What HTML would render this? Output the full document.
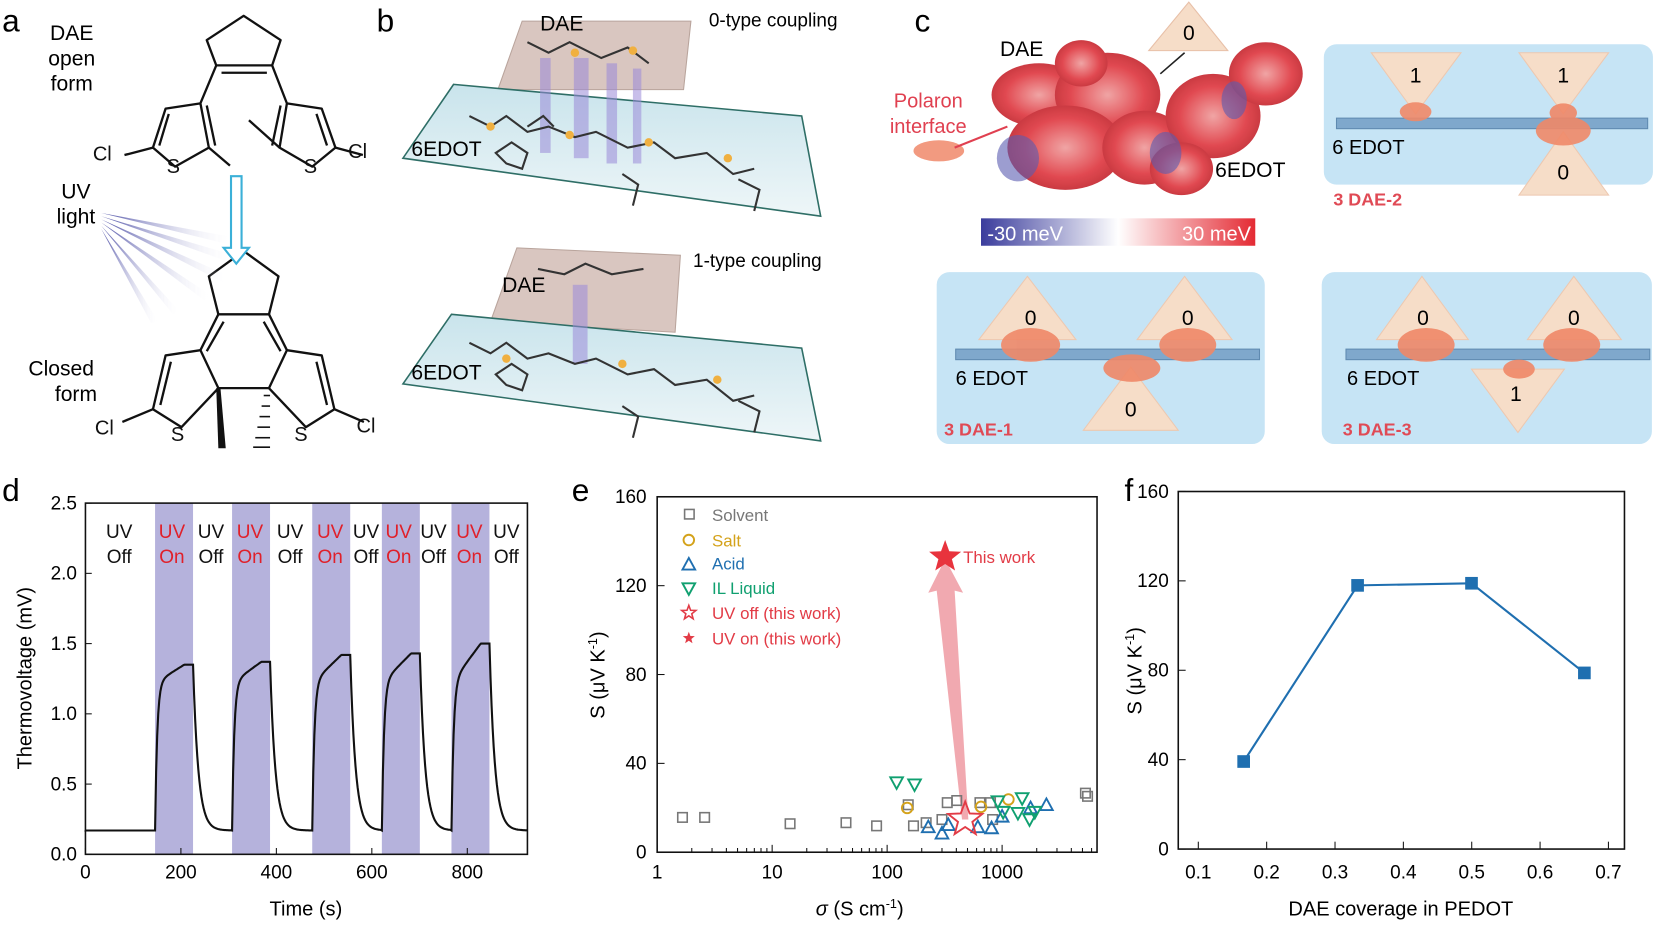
<!DOCTYPE html>
<html><head><meta charset="utf-8"><style>
html,body{margin:0;padding:0;background:#fff}
svg{display:block}
text{font-family:"Liberation Sans",Arial,sans-serif}
</style></head><body>
<svg id="s" width="1654" height="925" viewBox="0 0 1568 877" preserveAspectRatio="none" xmlns="http://www.w3.org/2000/svg">
<defs>
<linearGradient id="cb" x1="0" x2="1"><stop offset="0" stop-color="#3a3c9c"/><stop offset="0.5" stop-color="#ffffff"/><stop offset="1" stop-color="#e42a33"/></linearGradient>
<linearGradient id="uv" x1="0" x2="1"><stop offset="0" stop-color="#3a3c9c"/><stop offset="1" stop-color="#fff" stop-opacity="0"/></linearGradient>
<linearGradient id="pl" x1="0" x2="0" y1="0" y2="1"><stop offset="0" stop-color="#c9e4ec"/><stop offset="1" stop-color="#eef6f8"/></linearGradient>
<radialGradient id="blob"><stop offset="0" stop-color="#f0a0a0"/><stop offset="0.7" stop-color="#e04048"/><stop offset="1" stop-color="#c83038"/></radialGradient>
</defs>
<!-- Panel a -->
<text x="2" y="30" font-size="30">a</text>
<text x="68" y="38" font-size="20" text-anchor="middle">DAE</text>
<text x="68" y="62" font-size="20" text-anchor="middle">open</text>
<text x="68" y="86" font-size="20" text-anchor="middle">form</text>
<g stroke="#111" stroke-width="2.2" fill="none" stroke-linejoin="round">
<polyline points="205,62 196,38 231,15 266,38 258,62 205,62"/>
<line x1="210" y1="69" x2="253" y2="69"/>
<polyline points="205,62 190,98 157,103 145,140 166,158 198,140 190,98"/>
<line x1="196" y1="100" x2="204" y2="138"/><line x1="160" y1="108" x2="151" y2="138"/>
<line x1="198" y1="140" x2="218" y2="157"/><line x1="145" y1="140" x2="118" y2="147"/>
<polyline points="258,62 272,98 305,103 318,140 296,158 265,140 272,98"/>
<line x1="266" y1="100" x2="258" y2="138"/><line x1="300" y1="108" x2="310" y2="138"/>
<line x1="265" y1="140" x2="236" y2="114"/><line x1="318" y1="140" x2="344" y2="147"/>
<polyline points="207,298 198,262 231,238 264,262 255,298"/>
<polyline points="207,298 255,298 272,332 255,368 207,368 190,332 207,298"/>
<line x1="212" y1="305" x2="196" y2="333"/><line x1="250" y1="305" x2="266" y2="333"/>
<polyline points="190,332 157,337 145,388 172,405 207,368"/>
<line x1="162" y1="343" x2="152" y2="384"/>
<polyline points="272,332 305,337 317,388 290,405 255,368"/>
<line x1="300" y1="343" x2="310" y2="384"/>
<line x1="145" y1="388" x2="116" y2="400"/><line x1="317" y1="388" x2="345" y2="400"/>
</g>
<polygon points="205,368 209,368 214,425 207,425" fill="#111"/>
<g stroke="#111" stroke-width="1.5"><line x1="250" y1="375" x2="256" y2="375"/><line x1="248" y1="385" x2="256" y2="385"/><line x1="246" y1="395" x2="256" y2="395"/><line x1="244" y1="405" x2="256" y2="405"/><line x1="242" y1="415" x2="256" y2="415"/><line x1="240" y1="424" x2="256" y2="424"/></g>
<g font-size="19" fill="#111"><text x="88" y="152">Cl</text><text x="330" y="150">Cl</text><text x="158" y="164">S</text><text x="288" y="164">S</text>
<text x="90" y="412">Cl</text><text x="338" y="410">Cl</text><text x="162" y="418">S</text><text x="279" y="418">S</text></g>
<g font-size="20" text-anchor="middle"><text x="72" y="188">UV</text><text x="72" y="212">light</text>
<text x="58" y="356">Closed</text><text x="72" y="380">form</text></g>
<g fill="url(#uv)" opacity="0.9">
<polygon points="96,202 222,225 218,232"/><polygon points="96,205 222,242 216,248"/><polygon points="96,208 218,262 212,268"/>
<polygon points="96,211 200,280 194,285"/><polygon points="96,214 170,295 164,298"/><polygon points="96,217 150,305 143,306"/>
</g>
<path d="M219,167 h10 v68 h7 l-12,15 l-12,-15 h7 z" fill="#fff" stroke="#3bb0d8" stroke-width="2"/>
<!-- Panel b -->
<text x="357" y="30" font-size="30">b</text>
<polygon points="495,20 655,20 648,85 472,85" fill="#d9c6c0" stroke="#b9a49c"/>
<polygon points="430,80 760,110 778,205 382,150" fill="url(#pl)" stroke="#2e6e66" stroke-width="1.5"/>
<polygon points="490,235 645,242 640,315 465,305" fill="#d9c6c0" stroke="#b9a49c"/>
<polygon points="428,298 760,330 778,418 382,364" fill="url(#pl)" stroke="#2e6e66" stroke-width="1.5"/>
<g fill="#9a8ad8" opacity="0.55"><rect x="512" y="55" width="10" height="90"/><rect x="544" y="55" width="14" height="95"/><rect x="575" y="60" width="10" height="95"/><rect x="600" y="65" width="8" height="90"/><rect x="543" y="270" width="14" height="75"/></g>
<g stroke="#333" stroke-width="2" fill="none">
<path d="M445,110 l20,10 l15,-10 l20,15 l20,-5 l25,10 l20,-5 l30,15 l25,-5 l20,15 l30,-5 l25,20 l20,-5"/>
<path d="M470,145 l15,-10 l15,10 l-5,15 l-15,-5 z M500,120 l15,-10 l10,10 M590,165 l15,10 l-5,20 M700,170 l20,10 l-5,20"/>
<path d="M445,325 l20,10 l15,-10 l20,15 l20,-5 l25,10 l20,-5 l30,15 l25,-5 l20,15 l30,-5 l25,20 l20,-5"/>
<path d="M470,355 l15,-10 l15,10 l-5,15 l-15,-5 z M590,385 l15,10 l-5,20 M700,380 l20,10 l-5,20"/>
<path d="M500,40 l20,10 l20,-10 l30,15 l25,-10 l20,15 M510,255 l25,5 l20,-10 l25,10 l30,-5"/>
</g>
<g fill="#f0b040"><circle cx="465" cy="120" r="4"/><circle cx="540" cy="128" r="4"/><circle cx="615" cy="135" r="4"/><circle cx="690" cy="150" r="4"/><circle cx="480" cy="340" r="4"/><circle cx="590" cy="345" r="4"/><circle cx="680" cy="360" r="4"/><circle cx="545" cy="50" r="4"/><circle cx="600" cy="48" r="4"/></g>
<text x="512" y="29" font-size="20">DAE</text><text x="476" y="277" font-size="20">DAE</text>
<text x="390" y="148" font-size="20">6EDOT</text><text x="390" y="360" font-size="20">6EDOT</text>
<text x="672" y="25" font-size="18">0-type coupling</text><text x="657" y="253" font-size="18">1-type coupling</text>
<!-- Panel c -->
<text x="867" y="30" font-size="30">c</text>
<g fill="url(#blob)" opacity="0.95">
<ellipse cx="985" cy="90" rx="45" ry="30"/><ellipse cx="1050" cy="90" rx="50" ry="40"/><ellipse cx="1010" cy="140" rx="55" ry="40"/>
<ellipse cx="1085" cy="140" rx="40" ry="35"/><ellipse cx="1150" cy="110" rx="45" ry="40"/><ellipse cx="1200" cy="70" rx="35" ry="30"/>
<ellipse cx="1120" cy="160" rx="30" ry="25"/><ellipse cx="1025" cy="60" rx="25" ry="22"/>
</g>
<ellipse cx="965" cy="150" rx="20" ry="22" fill="#5a5cb0" opacity="0.6"/><ellipse cx="1105" cy="145" rx="15" ry="20" fill="#5a5cb0" opacity="0.6"/><ellipse cx="1170" cy="95" rx="12" ry="18" fill="#5a5cb0" opacity="0.6"/>
<polygon points="1090,2 1165,2 1127,48" fill="#f6ddc8" stroke="#e8c0a8" transform="rotate(180 1127 25)"/>
<text x="1127" y="38" font-size="20" text-anchor="middle">0</text>
<line x1="1123" y1="50" x2="1100" y2="70" stroke="#222" stroke-width="1.5"/>
<text x="948" y="53" font-size="20">DAE</text><text x="1152" y="168" font-size="20">6EDOT</text>
<text x="880" y="102" font-size="19" fill="#e04050" text-anchor="middle">Polaron</text><text x="880" y="126" font-size="19" fill="#e04050" text-anchor="middle">interface</text>
<ellipse cx="890" cy="143" rx="24" ry="10" fill="#f29a80"/><polyline points="905,140 955,120" stroke="#e04050" stroke-width="2" fill="none"/>
<rect x="930" y="207" width="260" height="26" fill="url(#cb)"/>
<text x="936" y="228" font-size="19" fill="#fff">-30 meV</text><text x="1186" y="228" font-size="19" fill="#fff" text-anchor="end">30 meV</text>
<g fill="#c6e4f5"><rect x="1255" y="42" width="312" height="133" rx="12"/><rect x="888" y="258" width="311" height="163" rx="12"/><rect x="1253" y="258" width="313" height="163" rx="12"/></g>
<g fill="#7fa8cc" stroke="#5f8ab0"><rect x="1267" y="112" width="295" height="10"/><rect x="906" y="331" width="288" height="10"/><rect x="1276" y="331" width="288" height="10"/></g>
<g fill="#f6ddc8" stroke="#edc8b0">
<polygon points="1300,50 1385,50 1342,108"/><polygon points="1440,50 1525,50 1482,108"/><polygon points="1440,185 1525,185 1482,125"/>
<polygon points="928,322 1020,322 974,262"/><polygon points="1078,322 1168,322 1123,262"/><polygon points="1027,408 1117,408 1072,348"/>
<polygon points="1305,322 1392,322 1348,262"/><polygon points="1448,322 1537,322 1492,262"/><polygon points="1395,350 1483,350 1439,410"/>
</g>
<g fill="#f08868" opacity="0.9">
<ellipse cx="1342" cy="106" rx="15" ry="9"/><ellipse cx="1482" cy="107" rx="13" ry="9"/><ellipse cx="1482" cy="124" rx="26" ry="14"/>
<ellipse cx="977" cy="327" rx="28" ry="16"/><ellipse cx="1126" cy="327" rx="27" ry="16"/><ellipse cx="1073" cy="349" rx="27" ry="13"/>
<ellipse cx="1352" cy="327" rx="27" ry="16"/><ellipse cx="1490" cy="327" rx="27" ry="16"/><ellipse cx="1440" cy="350" rx="15" ry="9"/>
</g>
<g font-size="20" text-anchor="middle"><text x="1342" y="78">1</text><text x="1482" y="78">1</text><text x="1482" y="170">0</text>
<text x="977" y="308">0</text><text x="1126" y="308">0</text><text x="1072" y="395">0</text>
<text x="1349" y="308">0</text><text x="1492" y="308">0</text><text x="1437" y="380">1</text></g>
<g font-size="19"><text x="1263" y="146">6 EDOT</text><text x="906" y="365">6 EDOT</text><text x="1277" y="365">6 EDOT</text></g>
<g font-size="17" font-weight="bold" fill="#e04a55"><text x="1264" y="195">3 DAE-2</text><text x="895" y="413">3 DAE-1</text><text x="1273" y="413">3 DAE-3</text></g>
<!-- Panel d -->
<text x="2" y="475" font-size="30">d</text>
<g id="bands" fill="#b5b2dc"></g>
<rect x="81" y="477" width="419" height="333" fill="none" stroke="#111" stroke-width="1.5"/>
<path id="trace" fill="none" stroke="#111" stroke-width="2"/>
<g id="dt" font-size="18"></g>
<text transform="translate(30,643) rotate(-90)" font-size="19" text-anchor="middle">Thermovoltage (mV)</text>
<text x="290" y="868" font-size="19" text-anchor="middle">Time (s)</text>
<!-- Panel e -->
<text x="542" y="475" font-size="30">e</text>
<rect x="623" y="471" width="417" height="337" fill="none" stroke="#111" stroke-width="1.5"/>
<g id="et" font-size="18"></g>
<text transform="translate(573,640) rotate(-90)" font-size="19" text-anchor="middle">S (μV K<tspan font-size="12" dy="-7">-1</tspan><tspan dy="7">)</tspan></text>
<text x="815" y="868" font-size="19" text-anchor="middle"><tspan font-style="italic">σ</tspan> (S cm<tspan font-size="12" dy="-7">-1</tspan><tspan dy="7">)</tspan></text>
<polygon points="912,777 918,777 905,560 913,562 896,530 880,562 888,560" fill="#ef9aa2" opacity="0.85"/>
<g id="es"></g>
<g font-size="16"><text x="675" y="494" fill="#777">Solvent</text><text x="675" y="518" fill="#d4a21a">Salt</text><text x="675" y="540" fill="#1f6fb0">Acid</text><text x="675" y="563" fill="#10a070">IL Liquid</text><text x="675" y="587" fill="#e23b46">UV off (this work)</text><text x="675" y="611" fill="#e23b46">UV on (this work)</text>
<text x="913" y="534" fill="#e23b46">This work</text></g>
<!-- Panel f -->
<text x="1066" y="475" font-size="30">f</text>
<rect x="1117" y="466" width="423" height="339" fill="none" stroke="#111" stroke-width="1.5"/>
<g id="ft" font-size="18"></g>
<text transform="translate(1082,636) rotate(-90)" font-size="19" text-anchor="middle">S (μV K<tspan font-size="12" dy="-7">-1</tspan><tspan dy="7">)</tspan></text>
<text x="1328" y="868" font-size="19" text-anchor="middle">DAE coverage in PEDOT</text>
<polyline points="1179,722 1287,555 1395,553 1502,638" fill="none" stroke="#1f6fb0" stroke-width="2"/>
<g fill="#1f6fb0"><rect x="1173" y="716" width="12" height="12"/><rect x="1281" y="549" width="12" height="12"/><rect x="1389" y="547" width="12" height="12"/><rect x="1496" y="632" width="12" height="12"/></g>
</svg>
<script>
var NS="http://www.w3.org/2000/svg";
function el(p,t,a,tx){var e=document.createElementNS(NS,t);for(var k in a)e.setAttribute(k,a[k]);if(tx!==undefined)e.textContent=tx;document.getElementById(p).appendChild(e);return e;}
var starts=[147,220,296,362,428],w=36,peaks=[1.35,1.37,1.42,1.43,1.5];
var X=function(t){return 81+t*0.4525},Y=function(v){return 810-v*133.2};
starts.forEach(function(s){el("bands","rect",{x:s,y:477,width:w,height:333});});
var d="M81,"+Y(0.17);
for(var x=81;x<=500;x+=1){var v=0.17;for(var i=0;i<5;i++){var s=starts[i];if(x>=s&&x<s+w){var u=(x-s)/w;v=0.17+(1.22-0.17)*(1-Math.exp(-u*18))+(peaks[i]-1.22)*Math.min(1,u*1.3);}else if(x>=s+w){var u2=(x-s-w);var vv=0.17+(peaks[i]-0.17)*Math.exp(-u2/5);if(u2<60&&vv>v)v=vv;}}
d+=" L"+x+","+Y(v).toFixed(1);}
document.getElementById("trace").setAttribute("d",d);
[0,200,400,600,800].forEach(function(t){el("dt","text",{x:X(t),y:833,"text-anchor":"middle"},t);el("dt","line",{x1:X(t),x2:X(t),y1:810,y2:804,stroke:"#111"});});
[0,0.5,1,1.5,2,2.5].forEach(function(v){el("dt","text",{x:73,y:Y(v)+6,"text-anchor":"end"},v.toFixed(1));el("dt","line",{x1:81,x2:87,y1:Y(v),y2:Y(v),stroke:"#111"});});
var lab=[[113,"UV","Off","#111"],[163,"UV","On","#e0202a"],[200,"UV","Off","#111"],[237,"UV","On","#e0202a"],[275,"UV","Off","#111"],[313,"UV","On","#e0202a"],[347,"UV","Off","#111"],[378,"UV","On","#e0202a"],[411,"UV","Off","#111"],[445,"UV","On","#e0202a"],[480,"UV","Off","#111"]];
lab.forEach(function(l){el("dt","text",{x:l[0],y:510,"text-anchor":"middle",fill:l[3]},l[1]);el("dt","text",{x:l[0],y:534,"text-anchor":"middle",fill:l[3]},l[2]);});
var eY=function(v){return 808-v*2.106};
[0,40,80,120,160].forEach(function(v){el("et","text",{x:613,y:eY(v)+6,"text-anchor":"end"},v);el("et","line",{x1:623,x2:630,y1:eY(v),y2:eY(v),stroke:"#111"});});
[[623,"1"],[732,"10"],[841,"100"],[950,"1000"]].forEach(function(a){el("et","text",{x:a[0],y:833,"text-anchor":"middle"},a[1]);el("et","line",{x1:a[0],x2:a[0],y1:808,y2:801,stroke:"#111"});
for(var k=2;k<10;k++){var xx=a[0]+109*Math.log10(k);if(xx<1040)el("et","line",{x1:xx,x2:xx,y1:808,y2:804,stroke:"#111"});}});
var sq=[[647,775],[668,775],[749,781],[802,780],[831,783],[866,783],[898,761],[907,759],[861,763],[878,780],[893,777],[929,761],[939,761],[941,777],[1029,752],[1031,755]];
sq.forEach(function(p){el("es","rect",{x:p[0]-4.5,y:p[1]-4.5,width:9,height:9,fill:"none",stroke:"#777","stroke-width":1.5});});
el("es","rect",{x:649,y:483,width:9,height:9,fill:"none",stroke:"#777","stroke-width":1.5});
[[860,766],[930,765],[956,758],[653,512]].forEach(function(p){el("es","circle",{cx:p[0],cy:p[1],r:5,fill:"none",stroke:"#d4a21a","stroke-width":1.8});});
function tri(p,up,c){var h=up?-1:1;el("es","polygon",{points:(p[0]-6)+","+(p[1]-5*h)+" "+(p[0]+6)+","+(p[1]-5*h)+" "+p[0]+","+(p[1]+6*h),fill:"none",stroke:c,"stroke-width":1.8});}
[[880,784],[893,790],[899,782],[927,784],[940,785],[950,774],[977,766],[992,763],[653,535]].forEach(function(p){tri(p,true,"#1f6fb0");});
[[850,742],[867,744],[946,760],[969,757],[965,771],[976,777],[981,770],[951,770],[653,558]].forEach(function(p){tri(p,false,"#10a070");});
function star(cx,cy,R,attrs){var pts=[];for(var i=0;i<10;i++){var r=i%2?R*0.42:R,a=-Math.PI/2+i*Math.PI/5;pts.push((cx+r*Math.cos(a)).toFixed(1)+","+(cy+r*Math.sin(a)).toFixed(1));}attrs.points=pts.join(" ");el("es","polygon",attrs);}
star(915,777,17,{fill:"none",stroke:"#e23b46","stroke-width":1.8});
star(896,528,16,{fill:"#e8333d"});
star(653,581,7,{fill:"none",stroke:"#e23b46","stroke-width":1.5});
star(653,605,6,{fill:"#e23b46"});
var fY=function(v){return 805-v*2.119};
[0,40,80,120,160].forEach(function(v){el("ft","text",{x:1108,y:fY(v)+6,"text-anchor":"end"},v);el("ft","line",{x1:1117,x2:1124,y1:fY(v),y2:fY(v),stroke:"#111"});});
for(var i=1;i<=7;i++){var xx=1136+(i-1)*64.8;el("ft","text",{x:xx,y:833,"text-anchor":"middle"},"0."+i);el("ft","line",{x1:xx,x2:xx,y1:805,y2:798,stroke:"#111"});}
</script>
</body></html>
